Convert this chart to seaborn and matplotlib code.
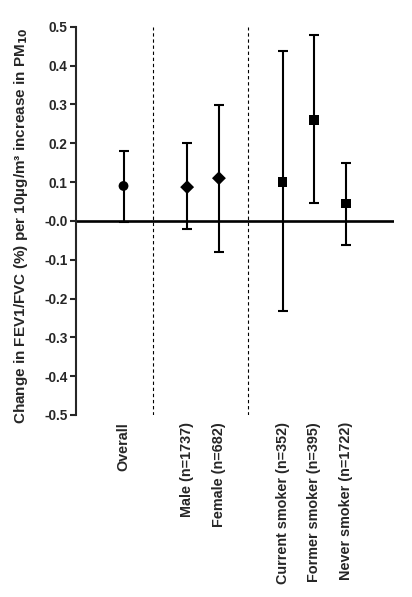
import pandas as pd
import seaborn as sns
import matplotlib.pyplot as plt

sns.set_style("ticks")
plt.rcParams['font.family'] = ['Liberation Sans', 'DejaVu Sans']
plt.rcParams['font.weight'] = 'bold'

# Estimates with 95% CI
groups = ['Overall', 'Male (n=1737)', 'Female (n=682)',
          'Current smoker (n=352)', 'Former smoker (n=395)', 'Never smoker (n=1722)']
estimate = [0.09, 0.087, 0.11, 0.10, 0.26, 0.045]
lower = [-0.004, -0.021, -0.08, -0.231, 0.047, -0.061]
upper = [0.181, 0.20, 0.299, 0.439, 0.48, 0.149]
group_kind = ['overall', 'sex', 'sex', 'smoking', 'smoking', 'smoking']
y_ticks = [0.5, 0.4, 0.3, 0.2, 0.1, 0.0, -0.1, -0.2, -0.3, -0.4, -0.5]
y_tick_labels = ['0.5', '0.4', '0.3', '0.2', '0.1', '-0.0', '-0.1', '-0.2', '-0.3', '-0.4', '-0.5']

# layout: x positions of the groups and the dashed separators
x_pos = [1.5, 3.5, 4.5, 6.5, 7.5, 8.5]
separators = [2.42, 5.42]

df = pd.DataFrame({'group': groups, 'x': x_pos, 'est': estimate,
                   'lo': lower, 'hi': upper, 'kind': group_kind})

fig = plt.figure(figsize=(4.12, 5.97), dpi=100)
ax = fig.add_axes([0.184, 0.305, 0.772, 0.65])

# error bars
ax.errorbar(df['x'], df['est'],
            yerr=[df['est'] - df['lo'], df['hi'] - df['est']],
            fmt='none', ecolor='black', elinewidth=1.5, capsize=3.3, capthick=1.5, zorder=2)

# point estimates
sns.scatterplot(ax=ax, data=df, x='x', y='est', style='kind',
                markers={'overall': 'o', 'sex': 'D', 'smoking': 's'},
                s=50, color='black', edgecolor='black', linewidth=0,
                legend=False, zorder=3)

# zero line and separators
ax.axhline(0, color='black', linewidth=1.9, zorder=1)
for sx in separators:
    ax.axvline(sx, color='black', linestyle=(0, (3, 2.5)), linewidth=0.8, zorder=1)

ax.set_xlim(0, 10)
ax.set_ylim(-0.5, 0.5)
ax.set_yticks(y_ticks)
ax.set_yticklabels(y_tick_labels, fontsize=9.8, fontweight='bold')
ax.set_xticks(x_pos)
ax.set_xticklabels(groups, rotation=90, fontsize=10.4, fontweight='bold', va='top')
ax.tick_params(axis='x', length=0, pad=5)
ax.tick_params(axis='y', length=4, width=1.5, direction='out', pad=2)

ax.set_xlabel('')
ax.set_ylabel('Change in FEV1/FVC (%) per 10µg/m³ increase in PM$_{\\mathbf{10}}$',
              fontsize=11, fontweight='bold')
ax.yaxis.set_label_coords(-0.145, 0.487)

sns.despine(ax=ax, bottom=True)
ax.spines['left'].set_linewidth(1.5)
ax.patch.set_alpha(0)

plt.savefig('out.png', dpi=100)
plt.close()
